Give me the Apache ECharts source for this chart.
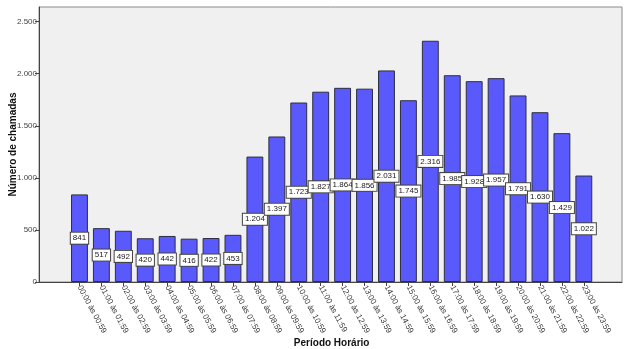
<!DOCTYPE html>
<html>
<head>
<meta charset="utf-8">
<script src="https://cdn.jsdelivr.net/npm/echarts@6/dist/echarts.min.js"></script>
<style>html,body{margin:0;padding:0;background:#fff}#c{width:624px;height:349px}</style>
</head>
<body>
<div id="c"></div>
<script>
const categories = ["00:00 às 00:59","01:00 às 01:59","02:00 às 02:59","03:00 às 03:59","04:00 às 04:59","05:00 às 05:59","06:00 às 06:59","07:00 às 07:59","08:00 às 08:59","09:00 às 09:59","10:00 às 10:59","11:00 às 11:59","12:00 às 12:59","13:00 às 13:59","14:00 às 14:59","15:00 às 15:59","16:00 às 16:59","17:00 às 17:59","18:00 às 18:59","19:00 às 19:59","20:00 às 20:59","21:00 às 21:59","22:00 às 22:59","23:00 às 23:59"];
const calls = [841,517,492,420,442,416,422,453,1204,1397,1723,1827,1864,1856,2031,1745,2316,1985,1928,1957,1791,1630,1429,1022];
const yTicks = [0,500,1000,1500,2000,2500];
const yMax = 2640;

const fmt = v => String(v).replace(/\B(?=(\d{3})+(?!\d))/g, '.');
const font = 'Liberation Sans, Arial, sans-serif';

const chart = echarts.init(document.getElementById('c'), null, {renderer:'canvas'});
chart.setOption({
  animation: false,
  textStyle: {fontFamily: font},
  grid: [
    {left: 39, right: 2, top: 7, bottom: 67, show: true, backgroundColor: '#f0f0f0', borderColor: '#8a8a8a', borderWidth: 1, containLabel: false, outerBoundsMode: 'none'},
    {left: 68.5, width: 526.3, top: 7, bottom: 67, containLabel: false, outerBoundsMode: 'none'}
  ],
  xAxis: [
    {gridIndex: 0, type: 'value', min: 0, max: 1, axisLine: {show: true, lineStyle: {color: '#444', width: 1}}, axisTick: {show: false}, axisLabel: {show: false}, splitLine: {show: false}},
    {gridIndex: 1, type: 'category', data: categories,
     axisLine: {show: false},
     axisTick: {show: true, alignWithLabel: true, length: 4, lineStyle: {color: '#444'}},
     axisLabel: {rotate: -62, fontSize: 8, color: '#333', margin: 4, interval: 0, fontFamily: font},
     name: 'Período Horário', nameLocation: 'middle', nameGap: 56, nameMoveOverlap: false,
     nameTextStyle: {fontSize: 10, fontWeight: 'bold', color: '#111', fontFamily: font}}
  ],
  yAxis: [
    {gridIndex: 0, type: 'value', min: 0, max: yMax,
     axisLine: {show: true, lineStyle: {color: '#444'}},
     axisTick: {show: true, length: 4, customValues: yTicks, lineStyle: {color: '#444'}},
     axisLabel: {customValues: yTicks, formatter: v => fmt(v), fontSize: 8, color: '#444', margin: 2, fontFamily: font},
     splitLine: {show: false},
     name: 'Número de chamadas', nameLocation: 'middle', nameGap: 21, nameMoveOverlap: false,
     nameTextStyle: {fontSize: 10, fontWeight: 'bold', color: '#111', fontFamily: font}},
    {gridIndex: 1, type: 'value', min: 0, max: yMax, show: false}
  ],
  series: [{
    type: 'bar', xAxisIndex: 1, yAxisIndex: 1, data: calls,
    barWidth: '77%',
    itemStyle: {color: '#5a5afc', borderColor: '#2e2e40', borderWidth: 1},
    label: {show: true, position: 'inside', formatter: p => fmt(p.value),
      backgroundColor: '#ffffff', borderColor: '#444', borderWidth: 1, padding: [2,2,1,2],
      fontSize: 8, color: '#222', fontFamily: font}
  }]
});
</script>
</body>
</html>
